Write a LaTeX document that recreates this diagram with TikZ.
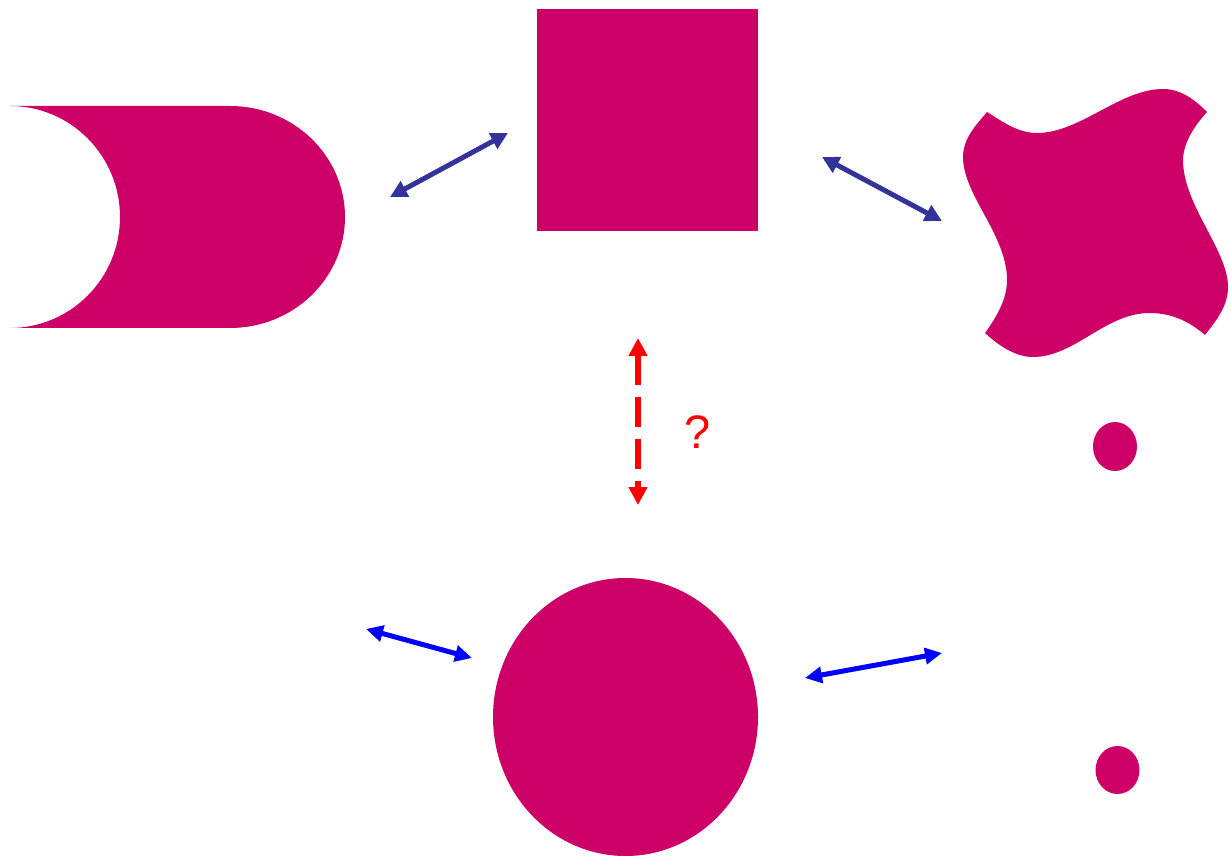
\documentclass[tikz,border=0pt]{standalone}
\usepackage{fontspec}
\setmainfont{Liberation Sans}
\usetikzlibrary{arrows.meta}
\definecolor{mag}{HTML}{CC0066}
\definecolor{navy}{HTML}{333399}
\tikzset{
  shapefill/.style={fill=mag, draw=none},
  navyarrow/.style={draw=navy, line width=5pt, {Triangle[length=17pt,width=17pt]}-{Triangle[length=17pt,width=17pt]}},
  bluearrow/.style={draw=blue, line width=5pt, {Triangle[length=17pt,width=16pt]}-{Triangle[length=17pt,width=16pt]}},
  redarrow/.style={draw=red, line width=6pt, dash pattern=on 30pt off 12pt, {Triangle[length=18pt,width=18pt]}-{Triangle[length=18pt,width=18pt]}},
}
\begin{document}
\begin{tikzpicture}[x=1pt,y=-1pt]
\useasboundingbox (0,0) rectangle (1231,858);
% D shape
\path[shapefill] (10,106) -- (230,106)
  arc[start angle=-90,end angle=90,x radius=115,y radius=111]
  -- (10,328)
  arc[start angle=90,end angle=-90,x radius=110,y radius=111] -- cycle;
% square
\path[shapefill] (537,9) rectangle (758,231);
% wavy shape
\path[shapefill] (987,112)
  .. controls (1003,122) and (1018,133) .. (1037,133)
  .. controls (1080,133) and (1120,89) .. (1163,89)
  .. controls (1182,89) and (1196,101) .. (1207,112)
  .. controls (1195,125) and (1183,143) .. (1183,160)
  .. controls (1183,205) and (1228,250) .. (1228,287)
  .. controls (1228,307) and (1215,322) .. (1205,335)
  .. controls (1190,322) and (1172,313) .. (1150,313)
  .. controls (1105,313) and (1075,357) .. (1033,357)
  .. controls (1015,357) and (998,345) .. (985,333)
  .. controls (998,315) and (1007,298) .. (1007,280)
  .. controls (1007,235) and (963,195) .. (963,157)
  .. controls (963,138) and (977,124) .. (987,112) -- cycle;
% circle
\path[shapefill] (625.5,717) ellipse[x radius=132.5, y radius=139];
% dots
\path[shapefill] (1115,446.5) ellipse[x radius=22, y radius=24.5];
\path[shapefill] (1117.5,770) ellipse[x radius=22, y radius=24];
% arrow end points
\coordinate (a1) at (390,197);
\coordinate (a2) at (508,133);
\coordinate (b1) at (822,157);
\coordinate (b2) at (942,221);
\coordinate (r1) at (638,338);
\coordinate (r2) at (638,505);
\coordinate (c1) at (366,629);
\coordinate (c2) at (472,658);
\coordinate (d1) at (805,678);
\coordinate (d2) at (942,653);
\draw[navyarrow] (a1) -- (a2);
\draw[navyarrow] (b1) -- (b2);
\draw[redarrow] (r1) -- (r2);
\draw[bluearrow] (c1) -- (c2);
\draw[bluearrow] (d1) -- (d2);
\node[text=red, font=\fontsize{47}{50}\selectfont, inner sep=0pt] (q) at (698,432) {?};
\end{tikzpicture}
\end{document}
